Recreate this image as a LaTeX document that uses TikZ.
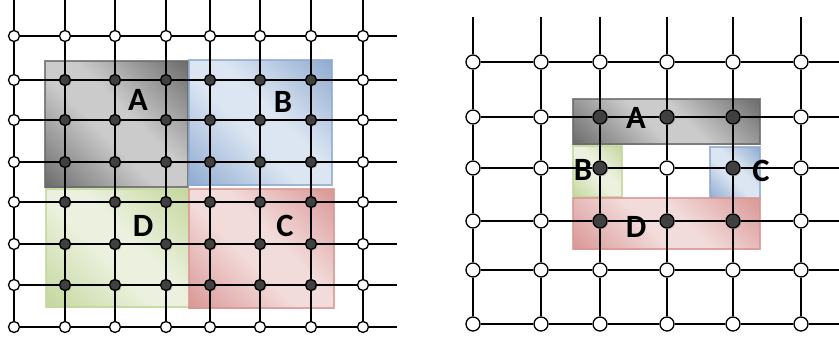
\documentclass[tikz,border=0pt]{standalone}
\usepackage{fontspec}
\setmainfont{Carlito}
\usetikzlibrary{shadows}
\definecolor{grayD}{HTML}{6A6A6A}
\definecolor{grayL}{HTML}{CBCBCB}
\definecolor{blueD}{HTML}{8EAAD0}
\definecolor{blueL}{HTML}{DCE6F2}
\definecolor{greenD}{HTML}{C3D69B}
\definecolor{greenL}{HTML}{EBF1DE}
\definecolor{redD}{HTML}{D99694}
\definecolor{redL}{HTML}{F2DCDB}
\colorlet{shdark}{grayD}
\colorlet{shlight}{grayL}
\pgfdeclarehorizontalshading[shdark,shlight]{blockshade}{100bp}{color(0bp)=(shdark); color(14bp)=(shdark); color(44bp)=(shlight); color(56bp)=(shlight); color(86bp)=(shdark); color(100bp)=(shdark)}
\tikzset{
  site0/.style={circle,draw=black,fill=white,line width=0.75pt,inner sep=0pt,minimum size=#1},
  site0/.default=0.22cm,
  site1/.style={circle,draw=black,fill=black!75,line width=0.75pt,inner sep=0pt,minimum size=#1,
    drop shadow={shadow xshift=0.7pt,shadow yshift=-0.7pt,opacity=0.35}},
  site1/.default=0.22cm,
  wire/.style={line width=0.75pt},
  tag/.style={font=\fontsize{18.5}{20}\bfseries\selectfont,inner sep=0pt},
  block/.style 2 args={/utils/exec={\colorlet{shdark}{#1}\colorlet{shlight}{#2}},
    draw=#1,line width=1.2pt,draw opacity=0.8,shade,shading=blockshade,shading angle=45}
}
\begin{document}
\begin{tikzpicture}[x=0.02cm,y=-0.02cm]
\useasboundingbox (0,0) rectangle (839,339);

\draw[block={grayD}{grayL}] (45,61) rectangle (188,187);
\draw[block={blueD}{blueL}] (189,60) rectangle (332,185);
\draw[block={greenD}{greenL}] (46,189) rectangle (190,307);
\draw[block={redD}{redL}] (189,189) rectangle (334,308);

\draw[block={grayD}{grayL}] (573,99) rectangle (760,144);
\draw[block={greenD}{greenL}] (573,146) rectangle (622,197);
\draw[block={blueD}{blueL}] (710,147) rectangle (760,199);
\draw[block={redD}{redL}] (573,198) rectangle (760,249);

\foreach \x [count=\i] in {14,65,115,166,210,260,311,363}
  \foreach \y [count=\j] in {36,80,120,162,202,244,285,327} {
    \pgfmathtruncatemacro\k{(\i>1)*(\i<8)*(\j>1)*(\j<8)}
    \node[site\k] (L\i-\j) at (\x,\y) {};
  }
\foreach \i [evaluate=\i as \n using int(\i+1)] in {1,...,7}
  \foreach \j in {1,...,8} {
    \draw[wire] (L\i-\j) -- (L\n-\j);
    \draw[wire] (L\j-\i) -- (L\j-\n);
  }
\foreach \x [count=\i] in {14,65,115,166,210,260,311,363} {
  \coordinate (Lt\i) at (\x,0);
  \draw[wire] (Lt\i) -- (L\i-1);
}
\foreach \y [count=\j] in {36,80,120,162,202,244,285,327} {
  \coordinate (Lr\j) at (397,\y);
  \draw[wire] (L8-\j) -- (Lr\j);
}

\foreach \x [count=\i] in {473,541,600,667,733,801}
  \foreach \y [count=\j] in {62,117,168,221,270,324} {
    \pgfmathtruncatemacro\k{(\i>2)*(\i<6)*(\j>1)*(\j<5)*(1-(\i==4)*(\j==3))}
    \node[site\k=0.28cm] (R\i-\j) at (\x,\y) {};
  }
\foreach \i [evaluate=\i as \n using int(\i+1)] in {1,...,5}
  \foreach \j in {1,...,6} {
    \draw[wire] (R\i-\j) -- (R\n-\j);
    \draw[wire] (R\j-\i) -- (R\j-\n);
  }
\foreach \x [count=\i] in {473,541,600,667,733,801} {
  \coordinate (Rt\i) at (\x,17);
  \draw[wire] (Rt\i) -- (R\i-1);
}
\foreach \y [count=\j] in {62,117,168,221,270,324} {
  \coordinate (Rr\j) at (839,\y);
  \draw[wire] (R6-\j) -- (Rr\j);
}

\node[tag] (lA) at (138,100) {A};
\node[tag] (lB) at (283,102) {B};
\node[tag] (lD) at (143,226) {D};
\node[tag] (lC) at (285,226) {C};

\node[tag] (rA) at (636,118) {A};
\node[tag] (rB) at (583,170) {B};
\node[tag] (rC) at (761,171) {C};
\node[tag] (rD) at (636,227) {D};
\end{tikzpicture}
\end{document}
